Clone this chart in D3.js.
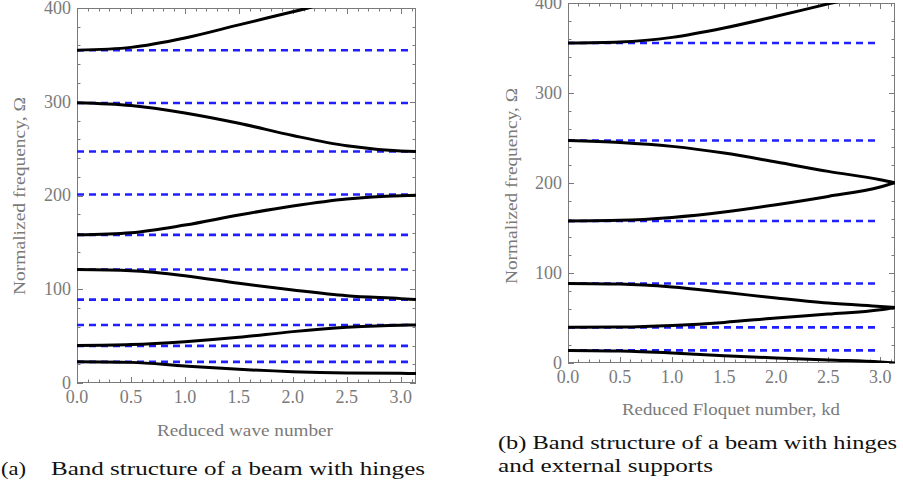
<!DOCTYPE html>
<html lang="en">
<head>
<meta charset="UTF-8">
<title>band structure</title>
<script src="https://cdn.jsdelivr.net/npm/d3@7"></script>
<style>
  body { margin: 0; background: #fff; }
  svg { display: block; }
</style>
</head>
<body>
<script>
// reduced wave number samples (0 .. pi)
const kSamples = [0, 0.5, 1, 1.5, 2, 2.5, 3, 3.1416];

// (a) beam with hinges: pass bands (black) and reference frequencies (blue dashed)
const bandsA = [
  [22.7, 22.0, 18.1, 14.6, 12.1, 10.7, 10.3, 10.2],
  [40.0, 41.0, 44.1, 48.7, 54.8, 59.4, 61.7, 61.8],
  [121.0, 119.8, 114.5, 106.3, 99.2, 93.1, 90.0, 89.0],
  [158.0, 160.3, 168.5, 179.2, 188.8, 196.3, 199.8, 200.2],
  [299.0, 296.0, 288.0, 277.0, 264.0, 253.0, 247.5, 247.0],
  [355.0, 358.0, 368.0, 382.0, 396.0, 410.0, 420.0, 422.0]
];
const linesA = [22.5, 39.6, 61.8, 88.9, 121.0, 158.0, 201.0, 247.0, 298.6, 355.0];

// (b) beam with hinges and external supports
const bandsB = [
  [14.0, 13.3, 11.1, 8.1, 5.6, 3.3, 1.2, 0.0],
  [39.6, 40.0, 41.8, 45.1, 50.0, 54.4, 59.2, 61.8],
  [88.4, 87.7, 84.4, 78.5, 72.2, 66.7, 62.9, 61.8],
  [157.8, 158.5, 161.8, 167.8, 175.9, 185.1, 195.6, 200.3],
  [247.3, 245.1, 240.7, 233.3, 223.3, 212.9, 203.7, 200.3],
  [355.5, 356.6, 361.8, 372.2, 385.2, 399.0, 412.0, 416.0]
];
const linesB = [14.0, 39.6, 88.4, 157.8, 247.3, 355.5];

const xTicks = [0, 0.5, 1, 1.5, 2, 2.5, 3];
const yTicks = [0, 100, 200, 300, 400];

const width = 903, height = 486;
const gray = '#7a7a7a';
const tickFont = '"Liberation Serif", "Times New Roman", serif';
const capFont = '"Liberation Serif", "Times New Roman", serif';

const svg = d3.select('body').append('svg')
  .attr('width', width)
  .attr('height', height);

function panel(cfg) {
  const x = d3.scaleLinear().domain([0, Math.PI]).range([cfg.left, cfg.right]);
  const y = d3.scaleLinear().domain([0, 400]).range([cfg.bottom, cfg.top]);
  const g = svg.append('g');

  g.append('clipPath').attr('id', cfg.id)
    .append('rect')
    .attr('x', cfg.left).attr('y', cfg.top)
    .attr('width', cfg.right - cfg.left).attr('height', cfg.bottom - cfg.top);

  // frame ticks, all four sides, pointing inward
  const xMinor = d3.range(0, 3.15, 0.1);
  const yMinor = d3.range(0, 401, 20);
  const tickG = g.append('g').attr('stroke', gray).attr('stroke-width', 1);
  xMinor.forEach(function (v, i) {
    const len = (i % 5 === 0) ? 6 : 3.5;
    const px = Math.round(x(v)) + 0.5;
    tickG.append('line').attr('x1', px).attr('x2', px)
      .attr('y1', cfg.bottom).attr('y2', cfg.bottom - len);
    tickG.append('line').attr('x1', px).attr('x2', px)
      .attr('y1', cfg.top).attr('y2', cfg.top + len);
  });
  yMinor.forEach(function (v, i) {
    const len = (i % 5 === 0) ? 6 : 3.5;
    const py = Math.round(y(v)) + 0.5;
    tickG.append('line').attr('y1', py).attr('y2', py)
      .attr('x1', cfg.left).attr('x2', cfg.left + len);
    tickG.append('line').attr('y1', py).attr('y2', py)
      .attr('x1', cfg.right).attr('x2', cfg.right - len);
  });

  g.append('rect')
    .attr('x', cfg.left + 0.5).attr('y', cfg.top + 0.5)
    .attr('width', cfg.right - cfg.left - 1).attr('height', cfg.bottom - cfg.top - 1)
    .attr('fill', 'none').attr('stroke', gray).attr('stroke-width', 1);

  // tick labels
  g.selectAll('.xl').data(xTicks).enter().append('text')
    .attr('x', d => x(d)).attr('y', cfg.bottom + 20)
    .attr('text-anchor', 'middle')
    .attr('font-family', tickFont).attr('font-size', 18).attr('fill', gray)
    .text(d => d.toFixed(1));
  g.selectAll('.yl').data(yTicks).enter().append('text')
    .attr('x', cfg.left - 6).attr('y', d => y(d)).attr('dy', '0.33em')
    .attr('text-anchor', 'end')
    .attr('font-family', tickFont).attr('font-size', 18).attr('fill', gray)
    .text(d => d);

  const plot = g.append('g').attr('clip-path', 'url(#' + cfg.id + ')');

  // dashed reference lines
  plot.selectAll('.ref').data(cfg.lines).enter().append('line')
    .attr('x1', x(0)).attr('x2', x(cfg.lineEnd))
    .attr('y1', d => y(d)).attr('y2', d => y(d))
    .attr('stroke', '#1f1fff').attr('stroke-width', 2.6)
    .attr('stroke-dasharray', '7,5');

  const line = d3.line()
    .x((d, i) => x(kSamples[i]))
    .y(d => y(d))
    .curve(d3.curveMonotoneX);

  plot.selectAll('.band').data(cfg.bands).enter().append('path')
    .attr('d', line)
    .attr('fill', 'none').attr('stroke', '#000').attr('stroke-width', 3);

  // axis titles
  g.append('text')
    .attr('x', cfg.xLabel[0]).attr('y', cfg.xLabel[1])
    .attr('text-anchor', 'middle')
    .attr('font-family', tickFont).attr('font-size', 17).attr('fill', gray)
    .attr('textLength', cfg.xLabel[2]).attr('lengthAdjust', 'spacingAndGlyphs')
    .text(cfg.xTitle);
  g.append('text')
    .attr('transform', 'translate(' + cfg.yLabel[0] + ',' + cfg.yLabel[1] + ') rotate(-90)')
    .attr('text-anchor', 'middle')
    .attr('font-family', tickFont).attr('font-size', 17).attr('fill', gray)
    .attr('textLength', cfg.yLabel[2]).attr('lengthAdjust', 'spacingAndGlyphs')
    .text('Normalized frequency, \u03a9');
}

panel({
  id: 'clipA', left: 77, right: 416, top: 8, bottom: 383,
  bands: bandsA, lines: linesA, lineEnd: 3.1,
  xTitle: 'Reduced wave number', xLabel: [245, 436, 176],
  yLabel: [25, 196, 198]
});

panel({
  id: 'clipB', left: 568, right: 895, top: 3, bottom: 363,
  bands: bandsB, lines: linesB, lineEnd: 2.95,
  xTitle: 'Reduced Floquet number, kd', xLabel: [731, 415, 218],
  yLabel: [517, 186, 196]
});

// captions
function caption(txt, x0, y0, len) {
  svg.append('text').attr('x', x0).attr('y', y0)
    .attr('font-family', capFont).attr('font-size', 19).attr('fill', '#111')
    .attr('textLength', len).attr('lengthAdjust', 'spacingAndGlyphs')
    .text(txt);
}
caption('(a)', 1, 475, 25);
caption('Band structure of a beam with hinges', 51, 475, 374);
caption('(b) Band structure of a beam with hinges', 498, 449, 399);
caption('and external supports', 498, 472, 215);
</script>
</body>
</html>
